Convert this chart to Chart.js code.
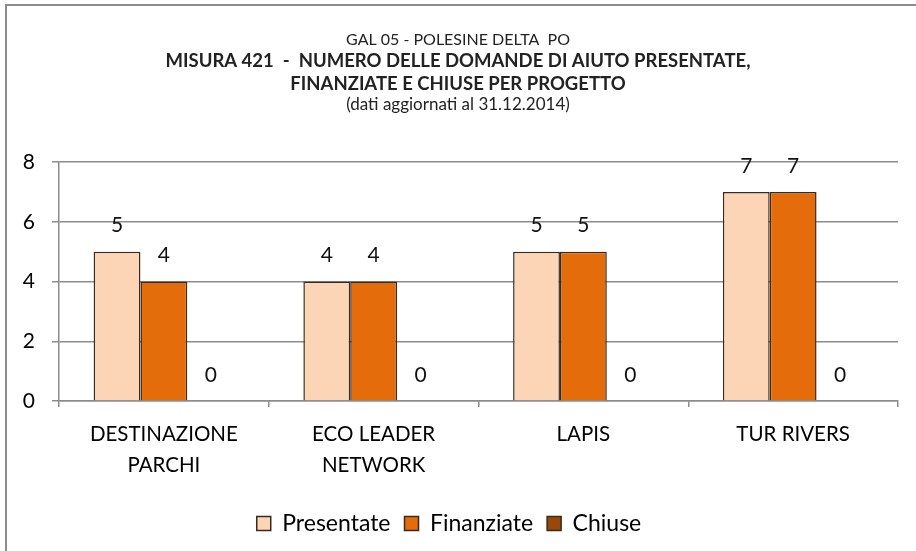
<!DOCTYPE html>
<html>
<head>
<meta charset="utf-8">
<script src="https://cdn.jsdelivr.net/npm/chart.js@4/dist/chart.umd.min.js"></script>
<style>
  body { margin: 0; background: #fff; }
  #wrap { width: 916px; height: 551px; }
</style>
</head>
<body>
<div id="wrap"><canvas id="chart" width="916" height="551"></canvas></div>
<script>
const categories = [['DESTINAZIONE', 'PARCHI'], ['ECO LEADER', 'NETWORK'], 'LAPIS', 'TUR RIVERS'];
const seriesNames = ['Presentate', 'Finanziate', 'Chiuse'];
const presentate = [5, 4, 5, 7];
const finanziate = [4, 4, 5, 7];
const chiuse = [0, 0, 0, 0];
const yTicks = [0, 2, 4, 6, 8];
const titleLines = [
    'GAL 05 - POLESINE DELTA  PO',
    'MISURA 421  -  NUMERO DELLE DOMANDE DI AIUTO PRESENTATE,',
    'FINANZIATE E CHIUSE PER PROGETTO',
    '(dati aggiornati al 31.12.2014)'
];

const FONT = 'Lato, "Open Sans", sans-serif';

// cornice e titolo su più righe con dimensioni diverse
const frameAndTitle = {
    id: 'frameAndTitle',
    beforeDraw(chart) {
        const ctx = chart.ctx;
        ctx.save();
        ctx.fillStyle = '#fff';
        ctx.fillRect(0, 0, chart.width, chart.height);
        ctx.strokeStyle = '#8c8c8c';
        ctx.lineWidth = 2;
        ctx.beginPath();
        ctx.moveTo(6, chart.height);
        ctx.lineTo(6, 5);
        ctx.lineTo(chart.width, 5);
        ctx.stroke();
        ctx.restore();
    },
    afterDraw(chart) {
        const ctx = chart.ctx;
        const styles = [
            { size: 16, weight: 'normal', y: 40 },
            { size: 18.5, weight: 'bold', y: 61 },
            { size: 18.5, weight: 'bold', y: 84 },
            { size: 17, weight: 'normal', y: 105 }
        ];
        ctx.save();
        ctx.fillStyle = '#222';
        ctx.textAlign = 'center';
        ctx.textBaseline = 'middle';
        titleLines.forEach((t, i) => {
            ctx.font = `${styles[i].weight} ${styles[i].size}px ${FONT}`;
            ctx.fillText(t, 458, styles[i].y);
        });
        ctx.restore();
    }
};

// etichette dei valori sopra le barre
const valueLabels = {
    id: 'valueLabels',
    afterDatasetsDraw(chart) {
        const ctx = chart.ctx;
        ctx.save();
        ctx.fillStyle = '#111';
        ctx.font = `21px ${FONT}`;
        ctx.textAlign = 'center';
        ctx.textBaseline = 'middle';
        chart.data.datasets.forEach((ds, i) => {
            chart.getDatasetMeta(i).data.forEach((bar, j) => {
                ctx.fillText(ds.data[j], bar.x, bar.y - 26);
            });
        });
        ctx.restore();
    }
};

const barBorder = '#3a2a1e';

new Chart(document.getElementById('chart'), {
    type: 'bar',
    data: {
        labels: categories,
        datasets: [
            { label: seriesNames[0], data: presentate, backgroundColor: '#fbd5b5' },
            { label: seriesNames[1], data: finanziate, backgroundColor: '#e46c0a' },
            { label: seriesNames[2], data: chiuse, backgroundColor: '#984807' }
        ].map(d => Object.assign(d, {
            borderColor: barBorder,
            borderWidth: 1.5,
            barPercentage: 1,
            categoryPercentage: 0.67
        }))
    },
    options: {
        responsive: false,
        animation: false,
        layout: { padding: { top: 162, right: 18, left: 0, bottom: 6 } },
        scales: {
            x: {
                grid: {
                    display: true,
                    drawOnChartArea: false,
                    drawTicks: true,
                    tickLength: 6,
                    offset: true,
                    color: '#8c8c8c',
                    lineWidth: 1.5
                },
                border: { color: '#8c8c8c', width: 1.5 },
                ticks: {
                    color: '#000',
                    padding: 12,
                    font: { family: FONT, size: 20.5, lineHeight: 1.5 }
                },
                afterFit: s => { s.height = 97; }
            },
            y: {
                min: 0,
                max: 8,
                afterBuildTicks: s => { s.ticks = yTicks.map(v => ({ value: v })); },
                grid: {
                    color: '#8c8c8c',
                    lineWidth: 1.5,
                    tickLength: 7
                },
                border: { color: '#8c8c8c', width: 1.5 },
                ticks: {
                    color: '#000',
                    padding: 17,
                    font: { family: FONT, size: 21 }
                },
                afterFit: s => { s.width = 59; }
            }
        },
        plugins: {
            title: { display: false },
            tooltip: { enabled: false },
            legend: {
                position: 'bottom',
                labels: {
                    color: '#000',
                    boxWidth: 14,
                    boxHeight: 14,
                    padding: 14,
                    font: { family: FONT, size: 23 }
                }
            }
        }
    },
    plugins: [frameAndTitle, valueLabels]
});
</script>
</body>
</html>
